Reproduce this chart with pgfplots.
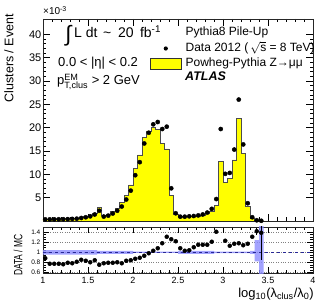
\documentclass[border=0pt]{standalone}
\usepackage{amsmath}
\usepackage{fontspec}
\setmainfont{Liberation Sans}
\usepackage{pgfplots}
\pgfplotsset{compat=1.18}
\usepackage{pgfplotstable}
\definecolor{histyellow}{RGB}{255,255,0}
\definecolor{bandblue}{RGB}{140,140,255}
\definecolor{lineblue}{RGB}{40,40,150}

% MC histogram: left bin edge, content (x 10^-3)
\pgfplotstableread{
x h
1.00 0.40
1.05 0.45
1.10 0.47
1.15 0.48
1.20 0.50
1.25 0.51
1.30 0.58
1.35 0.62
1.40 0.76
1.45 0.96
1.50 1.25
1.55 1.67
1.60 2.93
1.65 1.22
1.70 1.46
1.75 2.03
1.80 2.75
1.85 3.97
1.90 5.54
1.95 7.74
2.00 11.26
2.05 14.16
2.10 17.85
2.15 19.29
2.20 20.10
2.25 19.63
2.30 16.69
2.35 15.42
2.40 5.56
2.45 1.35
2.50 0.86
2.55 0.90
2.60 0.96
2.65 0.97
2.70 1.04
2.75 1.22
2.80 1.57
2.85 2.15
2.90 3.33
2.95 12.70
3.00 8.20
3.05 9.10
3.10 13.10
3.15 22.00
3.20 14.50
3.25 3.14
3.30 0.62
3.35 0.11
3.40 0.04
3.45 0
}\histtab

% Data: bin centre, content
\pgfplotstableread{
x d
1.025 0.35
1.075 0.35
1.125 0.36
1.175 0.37
1.225 0.38
1.275 0.40
1.325 0.45
1.375 0.50
1.425 0.65
1.475 0.80
1.525 1.00
1.575 1.40
1.625 2.20
1.675 0.95
1.725 1.15
1.775 1.60
1.825 2.20
1.875 3.10
1.925 4.60
1.975 6.50
2.025 9.80
2.075 12.60
2.125 16.60
2.175 18.90
2.225 20.70
2.275 21.20
2.325 19.70
2.375 20.20
2.425 7.00
2.475 1.65
2.525 0.93
2.575 0.93
2.625 1.00
2.675 1.07
2.725 1.20
2.775 1.40
2.825 1.80
2.875 2.60
2.925 4.70
2.975 19.70
3.025 10.10
3.075 10.30
3.125 15.30
3.175 26.00
3.225 16.40
3.275 3.80
3.325 0.80
3.375 0.15
3.425 0.05
}\datatab

% Ratio DATA/MC
\pgfplotstableread{
x r ep em
1.025 0.88 0 0
1.075 0.77 0 0
1.125 0.77 0 0
1.175 0.77 0 0
1.225 0.76 0 0
1.275 0.79 0 0
1.325 0.78 0 0
1.375 0.81 0 0
1.425 0.85 0 0
1.475 0.83 0 0
1.525 0.80 0 0
1.575 0.84 0 0
1.625 0.75 0 0
1.675 0.78 0 0
1.725 0.79 0 0
1.775 0.79 0 0
1.825 0.80 0 0
1.875 0.78 0 0
1.925 0.83 0 0
1.975 0.84 0 0
2.025 0.87 0 0
2.075 0.89 0 0
2.125 0.93 0 0
2.175 0.98 0 0
2.225 1.03 0 0
2.275 1.08 0 0
2.325 1.18 0 0
2.375 1.31 0 0
2.425 1.26 0 0
2.475 1.22 0 0
2.525 1.08 0 0
2.575 1.03 0 0
2.625 1.04 0 0
2.675 1.10 0 0
2.725 1.15 0 0
2.775 1.15 0 0
2.825 1.15 0 0
2.875 1.21 0 0
2.925 1.41 0 0
3.025 1.23 0 0
3.075 1.13 0 0
3.125 1.17 0 0
3.175 1.18 0 0
3.225 1.14 0 0
3.275 1.17 0 0
3.325 1.31 0 0
3.375 1.42 0.06 0.08
3.425 1.39 0.50 0.55
}\ratiotab

\begin{document}
\begin{tikzpicture}
\path[use as bounding box] (-43pt,-32pt) rectangle (286pt,273pt);

\begin{axis}[
  name=ratio,
  at={(0pt,0pt)}, anchor=south west,
  scale only axis, width=270pt, height=46pt,
  xmin=1, xmax=4, ymin=0.585, ymax=1.505,
  xtick={1,1.5,2,2.5,3,3.5,4}, xticklabels={1,1.5,2,2.5,3,3.5,4}, minor x tick num=4,
  ytick={0.6,0.8,1,1.2,1.4}, yticklabels={0.6,0.8,1,1.2,1.4}, minor y tick num=3,
  tick align=inside,
  major tick length=6pt, minor tick length=3pt,
  tick style={black, line width=0.5pt},
  axis line style={line width=0.7pt, black!85},
  ymajorgrids, major grid style={dotted, gray, line width=0.5pt},
  /pgf/number format/assume math mode=true,
  yticklabel style={font=\fontsize{6.5}{6.5}\selectfont, inner sep=2.5pt},
  xticklabel style={font=\fontsize{9}{9}\selectfont, inner sep=4pt},
]
% MC statistical uncertainty band
\addplot[fill=bandblue, fill opacity=0.8, draw=none, forget plot] coordinates {
 (1.00,1.045) (1.60,1.045) (1.60,1.030) (2.00,1.030) (2.00,1.012) (2.50,1.012)
 (2.50,1.030) (2.90,1.030) (2.90,1.015) (3.30,1.015) (3.30,1.030) (3.35,1.030)
 (3.35,1.240) (3.40,1.240) (3.40,1.600) (3.45,1.600)
 (3.45,0.500) (3.40,0.500) (3.40,0.820) (3.35,0.820) (3.35,0.970) (3.30,0.970)
 (3.30,0.985) (2.90,0.985) (2.90,0.970) (2.50,0.970) (2.50,0.988) (2.00,0.988)
 (2.00,0.970) (1.60,0.970) (1.60,0.955) (1.00,0.955)} --cycle;
\addplot[lineblue, dashed, line width=0.7pt, forget plot] coordinates {(1,1) (4,1)};
\addplot[only marks, mark=*, mark size=2pt, black,
  error bars/.cd, y dir=both, y explicit, error mark=none,
  error bar style={line width=0.8pt, black}]
  table[x=x, y=r, y error plus=ep, y error minus=em]{\ratiotab};
\end{axis}

\begin{axis}[
  name=main,
  at={(0pt,52pt)}, anchor=south west,
  scale only axis, width=270pt, height=202pt,
  xmin=1, xmax=4, ymin=0, ymax=43.26,
  xtick={1,1.5,2,2.5,3,3.5,4}, xticklabels={}, minor x tick num=4,
  ytick={5,10,15,20,25,30,35,40}, minor y tick num=4,
  tick align=inside,
  major tick length=7pt, minor tick length=3.5pt,
  tick style={black, line width=0.5pt},
  axis line style={line width=0.7pt, black!85},
  /pgf/number format/assume math mode=true,
  yticklabel style={font=\fontsize{11}{11}\selectfont, inner sep=1.5pt},
  legend style={at={(rel axis cs:0.3963,0.9678)}, anchor=north west,
    draw=none, fill=none, inner sep=0pt, outer sep=0pt,
    font=\fontsize{12}{12}\selectfont, row sep=0.5pt, column sep=2pt,
    nodes={inner sep=2pt, text height=8.5pt, text depth=2.5pt}},
  legend cell align=left,
]
\addlegendimage{empty legend}
\addlegendentry{Pythia8 Pile-Up}
\addlegendimage{legend image code/.code={\path[draw=none, fill=none] (0pt,-5.5pt) rectangle (31pt,5.5pt); \fill[black, draw=none] (15.5pt,0pt) circle (2.1pt);}}
\addlegendentry{Data 2012 (\,$\sqrt{\text{s}}$ = 8 TeV)}
\addplot[const plot, fill=histyellow, draw=black!70, line width=0.6pt,
  legend image code/.code={\draw[fill=histyellow, draw=black!80, line width=0.6pt] (0pt,-5.5pt) rectangle (31pt,5.5pt);}]
  table[x=x, y=h]{\histtab} \closedcycle;
\addlegendentry{Powheg-Pythia Z→μμ}
\addplot[only marks, mark=*, mark size=2.1pt, black, forget plot] table[x=x, y=d]{\datatab};
\end{axis}

% y labels
\node[rotate=90, anchor=east, inner sep=0pt, font=\fontsize{12.5}{12.5}\selectfont] at (-34pt,259pt) {Clusters / Event};
\node[rotate=90, inner sep=0pt, font=\fontsize{12}{12}\selectfont] at (-25pt,18pt) {\scalebox{0.7}[1]{DATA / MC}};
% x label
\node[anchor=base east, inner sep=0pt, font=\fontsize{13}{13}\selectfont] at (271pt,-24pt) {log\textsubscript{10}(λ\textsubscript{clus}/λ\textsubscript{0})};
% exponent
\node[anchor=base west, inner sep=0pt, font=\fontsize{10}{10}\selectfont] at (0pt,258pt) {×10\textsuperscript{-3}};
% annotations
\node[inner sep=0pt, font=\fontsize{22}{22}\selectfont] at (25.5pt,237pt) {∫};
\node[anchor=base west, inner sep=0pt, font=\fontsize{14}{14}\selectfont] at (31pt,235pt) {L dt\hspace{1.7pt} \textasciitilde\hspace{2.9pt} 20 \hspace{2.5pt}fb\textsuperscript{-1}};
\node[anchor=base west, inner sep=0pt, font=\fontsize{13}{13}\selectfont] at (15pt,206pt) {0.0 < |η| < 0.2};
\node[anchor=base west, inner sep=0pt, font=\fontsize{13}{13}\selectfont] at (14pt,188.5pt) {p$^{\text{EM}}_{\text{T,clus}}$ > 2 GeV};
\node[anchor=base west, inner sep=0pt, font=\fontsize{12.5}{12.5}\selectfont\bfseries\itshape] at (142pt,192pt) {ATLAS};
\end{tikzpicture}
\end{document}
